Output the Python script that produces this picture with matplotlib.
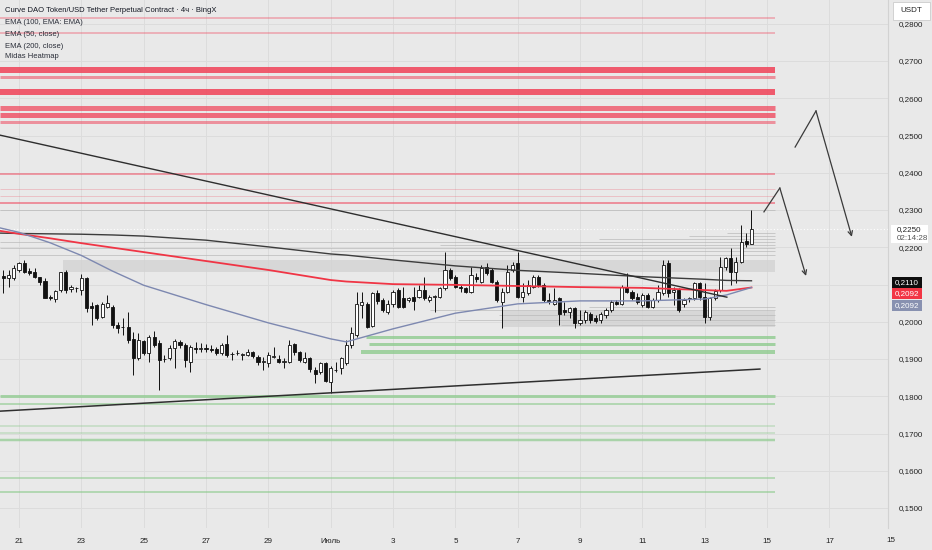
import numpy as np
import matplotlib.pyplot as plt
from matplotlib.patches import Rectangle
from matplotlib.ticker import FuncFormatter

plt.rcParams['font.family'] = ['Liberation Sans', 'DejaVu Sans']

W, H = 932, 550

# 4h candles, first candle at 20 June 12:00 (day 0 = 21 June)
opens = [.2124, .2117, .2117, .2139, .2157, .2136, .2134, .2119, .2109, .2067,
         .2061, .2085, .2133, .2088, .2090, .2085, .2118, .2043, .2045, .2014,
         .2040, .2040, .1991, .1986, .1987, .1955, .1902, .1949, .1915, .1960,
         .1942, .1899, .1904, .1929, .1946, .1938, .1893, .1930, .1927, .1930,
         .1927, .1927, .1915, .1940, .1913, .1915, .1912, .1912, .1920, .1906,
         .1893, .1888, .1906, .1899, .1893, .1893, .1939, .1918, .1891, .1902,
         .1870, .1866, .1888, .1839, .1870, .1875, .1888, .1938, .1964, .2045,
         .2049, .1989, .2076, .2058, .2027, .2049, .2085, .2063, .2058, .2067,
         .2067, .2085, .2058, .2067, .2067, .2090, .2139, .2121, .2094, .2090,
         .2081, .2121, .2108, .2148, .2139, .2108, .2054, .2081, .2139, .2157,
         .2067, .2076, .2094, .2121, .2099, .2058, .2049, .2063, .2031, .2027,
         .2036, .1996, .2005, .2022, .2011, .2005, .2018, .2031, .2054, .2049,
         .2094, .2081, .2067, .2045, .2072, .2040, .2058, .2076, .2157, .2079,
         .2085, .2047, .2062, .2063, .2103, .2067, .2014, .2063, .2085, .2148,
         .2170, .2134, .2161, .2217, .2210]
highs = [.2139, .2139, .2152, .2161, .2166, .2143, .2143, .2121, .2117, .2072,
         .2085, .2134, .2139, .2100, .2094, .2127, .2121, .2054, .2049, .2054,
         .2072, .2045, .2000, .2009, .2027, .1973, .1969, .1951, .1964, .1975,
         .1951, .1911, .1938, .1955, .1951, .1942, .1938, .1946, .1942, .1939,
         .1938, .1933, .1942, .1964, .1920, .1924, .1915, .1927, .1921, .1911,
         .1906, .1920, .1933, .1911, .1902, .1951, .1942, .1921, .1920, .1906,
         .1879, .1893, .1893, .1882, .1893, .1906, .1951, .1987, .2081, .2081,
         .2054, .2081, .2085, .2063, .2058, .2085, .2090, .2094, .2067, .2094,
         .2099, .2121, .2072, .2072, .2094, .2188, .2143, .2125, .2099, .2094,
         .2148, .2130, .2152, .2157, .2143, .2112, .2090, .2152, .2161, .2188,
         .2103, .2112, .2125, .2125, .2103, .2076, .2090, .2067, .2054, .2040,
         .2040, .2031, .2031, .2027, .2018, .2025, .2036, .2058, .2058, .2099,
         .2130, .2085, .2076, .2076, .2076, .2063, .2099, .2166, .2166, .2094,
         .2090, .2063, .2067, .2108, .2108, .2103, .2067, .2088, .2175, .2175,
         .2197, .2175, .2260, .2237, .2300]
lows = [.2076, .2094, .2112, .2134, .2130, .2125, .2117, .2099, .2063, .2058,
        .2054, .2081, .2076, .2081, .2081, .2072, .2027, .1991, .2005, .2009,
        .2036, .1982, .1969, .1964, .1942, .1857, .1897, .1911, .1893, .1933,
        .1817, .1893, .1897, .1875, .1929, .1879, .1866, .1915, .1920, .1920,
        .1920, .1911, .1911, .1906, .1897, .1911, .1897, .1909, .1902, .1884,
        .1870, .1879, .1902, .1888, .1875, .1888, .1912, .1893, .1888, .1866,
        .1835, .1861, .1837, .1808, .1866, .1861, .1884, .1929, .1960, .2009,
        .1982, .1987, .2049, .2027, .2022, .2040, .2036, .2036, .2054, .2031,
        .2063, .2058, .2054, .2027, .2063, .2085, .2112, .2090, .2081, .2076,
        .2076, .2108, .2103, .2125, .2103, .2054, .1982, .2076, .2134, .2063,
        .2054, .2072, .2090, .2094, .2054, .2049, .2045, .1991, .2018, .2009,
        .1982, .1991, .1996, .1996, .1996, .1996, .2009, .2027, .2045, .2045,
        .2076, .2058, .2049, .2040, .2036, .2036, .2054, .2072, .2067, .2045,
        .2027, .2040, .2054, .2058, .2058, .1996, .2005, .2058, .2081, .2139,
        .2099, .2103, .2157, .2202, .2208]
closes = [.2117, .2125, .2143, .2157, .2134, .2130, .2121, .2108, .2065, .2063,
          .2082, .2133, .2085, .2094, .2091, .2118, .2036, .2038, .2011, .2049,
          .2051, .1991, .1982, .1985, .1951, .1902, .1951, .1915, .1960, .1938,
          .1897, .1900, .1930, .1948, .1938, .1897, .1933, .1927, .1930, .1927,
          .1925, .1915, .1938, .1911, .1914, .1916, .1913, .1920, .1908, .1893,
          .1894, .1911, .1907, .1891, .1894, .1938, .1918, .1897, .1902, .1873,
          .1859, .1888, .1841, .1877, .1871, .1902, .1938, .1969, .2049, .2052,
          .1987, .2076, .2057, .2031, .2049, .2081, .2040, .2040, .2063, .2057,
          .2085, .2063, .2067, .2068, .2090, .2139, .2117, .2094, .2090, .2081,
          .2125, .2114, .2143, .2130, .2108, .2058, .2081, .2134, .2152, .2067,
          .2081, .2099, .2121, .2099, .2058, .2056, .2058, .2022, .2027, .2036,
          .1996, .2005, .2027, .2005, .2002, .2020, .2031, .2054, .2047, .2094,
          .2081, .2063, .2054, .2072, .2040, .2058, .2081, .2152, .2076, .2085,
          .2031, .2058, .2063, .2103, .2067, .2014, .2063, .2082, .2148, .2170,
          .2134, .2161, .2215, .2208, .2250]

# moving averages
ema_days = [-0.61, 0, 1, 2, 3, 4, 6, 8, 10, 10.5, 12, 14, 16, 18, 20, 22, 22.7, 23.5]
ema100 = [.2238, .2237, .2236, .2235, .2233, .2230, .2219, .2201, .2182, .2179, .2166, .2150,
          .2138, .2130, .2121, .2114, .2111, .2110]
ema200 = [.2244, .2236, .2224, .2211, .2199, .2187, .2163, .2139, .2112, .2108, .2101, .2099,
          .2096, .2093, .2091, .2085, .2083, .2092]
ema50 = [.2252, .2240, .2212, .2178, .2136, .2098, .2046, .1997, .1954, .1946, .1981, .2023,
         .2048, .2056, .2056, .2061, .2072, .2092]

# trend lines
down_days = [-0.61, 22.71]
down_px = [0.2501, 0.2066]
up_days = [-0.61, 23.77]
up_px = [0.1760, 0.1873]

# heatmap levels
heat_end = 24.25
red_lvls = [0.2815, 0.2775, 0.2676, 0.2656, 0.2616, 0.2575, 0.2555, 0.2535, 0.2397, 0.2356, 0.2338, 0.2318]
red_w = [2, 2, 6, 3, 6, 5, 5, 3, 2, 1, 1, 2]
red_a = [0.35, 0.35, 0.9, 0.55, 0.9, 0.75, 0.8, 0.55, 0.5, 0.25, 0.25, 0.55]
grn_lvls = [0.1960, 0.1940, 0.1920, 0.1801, 0.1779, 0.1721, 0.1702, 0.1683, 0.1581, 0.1542]
grn_start = [11.14, 11.24, 10.98, -0.61, -0.61, -0.61, -0.61, -0.61, -0.61, -0.61]
grn_w = [3, 3, 4, 3, 2, 1.5, 1.5, 2.5, 2, 2]
grn_a = [0.8, 0.8, 0.8, 0.75, 0.6, 0.45, 0.45, 0.7, 0.55, 0.6]
gray_lvls = [0.2300, 0.2239, 0.2231, 0.2223, 0.2215, 0.2207, 0.2199, 0.2191, 0.2180,
             0.2040, 0.2032, 0.2018, 0.2005, 0.1992]
gray_start = [-0.61, 22.7, 21.5, 18.6, -0.61, 13.5, -0.61, 10.0, 0.0,
              18.3, 13.2, 15.4, 14.1, 17.4]
band_lo = [0.2134, 0.1985]
band_hi = [0.2166, 0.2030]
band_start = [1.4, 15.5]

# hand drawn arrows
arr1_days = [23.90, 24.41, 25.25]
arr1_px = [0.2295, 0.2359, 0.2123]
arr2_days = [24.90, 25.57, 26.72]
arr2_px = [0.2469, 0.2566, 0.2228]

xtick_days = list(range(0, 27, 2))
xtick_labels = ['21', '23', '25', '27', '29', 'Июль', '3', '5', '7', '9', '11', '13', '15', '17']


def price_fmt(v, p):
    # 0,2100 sits under the indicator labels on the scale
    if abs(v - 0.21) < 1e-6:
        return ''
    return f'{v:.4f}'.replace('.', ',')


bg = '#e9e9e9'
fig = plt.figure(figsize=(W / 100, H / 100), dpi=100, facecolor=bg)
ax = fig.add_axes([0, 22 / H, 888 / W, 1 - 22 / H])
ax.set_facecolor(bg)
ax.set_xlim(-0.61, 27.88)
ax.set_ylim(0.14463, 0.28638)
ax.set_xticks(xtick_days)
ax.set_xticklabels(xtick_labels)
ax.set_yticks(np.arange(0.15, 0.2801, 0.01))
ax.yaxis.set_major_formatter(FuncFormatter(price_fmt))
ax.yaxis.tick_right()
ax.grid(True, color='#dcdcdc', lw=0.7)
ax.set_axisbelow(True)
ax.tick_params(axis='y', length=0, pad=8, labelsize=5.8, labelcolor='#222222')
ax.tick_params(axis='x', length=0, pad=7, labelsize=5.8, labelcolor='#222222')
for s in ['top', 'left', 'bottom']:
    ax.spines[s].set_visible(False)
ax.spines['right'].set_color('#d2d2d2')

# heatmap
for lo, hi, s in zip(band_lo, band_hi, band_start):
    ax.fill_between([s, heat_end], lo, hi, color='#d3d3d3', alpha=0.8, lw=0, zorder=1)
for lvl, s in zip(gray_lvls, gray_start):
    ax.hlines(lvl, s, heat_end, color='#b8b8b8', lw=0.6, alpha=0.8, zorder=1)
for lvl, w, a in zip(red_lvls, red_w, red_a):
    ax.hlines(lvl, -0.61, heat_end, color='#f04a60', lw=w * 0.72, alpha=a, zorder=1)
for lvl, s, w, a in zip(grn_lvls, grn_start, grn_w, grn_a):
    ax.hlines(lvl, s, heat_end, color='#8fcb8f', lw=w * 0.72, alpha=a, zorder=1)

# current price line
ax.axhline(closes[-1], color='white', ls=(0, (1, 2)), lw=0.8, zorder=2)

# candles
o, h, l, c = map(np.array, (opens, highs, lows, closes))
t = -0.5 + np.arange(len(o)) / 6
up = c >= o
ax.vlines(t, l, h, color='#111111', lw=0.7, zorder=4)
ax.bar(t, np.maximum(np.abs(c - o), 0.00012), bottom=np.minimum(o, c), width=0.1,
       color=np.where(up, 'white', '#111111'), edgecolor='#111111', linewidth=0.6, zorder=5)

# indicators and drawings
ax.plot(ema_days, ema100, color='#3c3c3c', lw=1.0, zorder=6)
ax.plot(ema_days, ema200, color='#f03545', lw=1.3, zorder=6)
ax.plot(ema_days, ema50, color='#7d88b0', lw=1.0, zorder=6)
ax.plot(down_days, down_px, color='#2e2e2e', lw=1.0, zorder=6)
ax.plot(up_days, up_px, color='#2e2e2e', lw=1.1, zorder=6)
for xs, ys in [(arr1_days, arr1_px), (arr2_days, arr2_px)]:
    ax.plot(xs[:2], ys[:2], color='#3a3a3a', lw=0.9, zorder=6)
    ax.annotate('', xy=(xs[2], ys[2]), xytext=(xs[1], ys[1]),
                arrowprops=dict(arrowstyle='->', color='#3a3a3a', lw=0.9, mutation_scale=8,
                                shrinkA=0, shrinkB=0), zorder=6)


def fx(px):
    return px / W


def fy(py):
    return 1 - py / H


fig.text(fx(891), fy(540), '15', ha='center', va='center', fontsize=5.8, color='#222222')

# legend texts
fig.text(fx(5), fy(11), 'Curve DAO Token/USD Tether Perpetual Contract · 4ч · BingX',
         fontsize=5.5, color='#131722', va='center')
for yy, txt in zip([23, 35, 46, 57], ['EMA (100, EMA: EMA)', 'EMA (50, close)',
                                       'EMA (200, close)', 'Midas Heatmap']):
    fig.text(fx(5), fy(yy), txt, fontsize=5.5, color='#2a2e39', va='center')


# price scale labels
def box(x0, y0, x1, y1, fc, ec='none'):
    fig.patches.append(Rectangle((fx(x0), fy(y1)), (x1 - x0) / W, (y1 - y0) / H,
                                 transform=fig.transFigure, fc=fc, ec=ec, lw=0.6, zorder=10))


box(893, 2, 930, 20, 'white', '#cccccc')
fig.text(fx(911), fy(11), 'USDT', ha='center', va='center', fontsize=5.8, color='#222222', zorder=11)
box(891, 225, 928, 243, 'white')
fig.text(fx(897), fy(229.5), '0,2250', va='center', fontsize=5.8, color='#222222', zorder=11)
fig.text(fx(897), fy(238.5), '02:14:28', va='center', fontsize=5.8, color='#555555', zorder=11)
for y0, fc, txt in [(277, '#0e0e0e', '0,2110'), (288, '#f23645', '0,2092'), (300, '#8891b0', '0,2092')]:
    box(892, y0, 922, y0 + 10.5, fc)
    fig.text(fx(907), fy(y0 + 5.3), txt, ha='center', va='center', fontsize=5.8, color='white', zorder=11)

fig.savefig('out.png', dpi=100, facecolor=bg)
